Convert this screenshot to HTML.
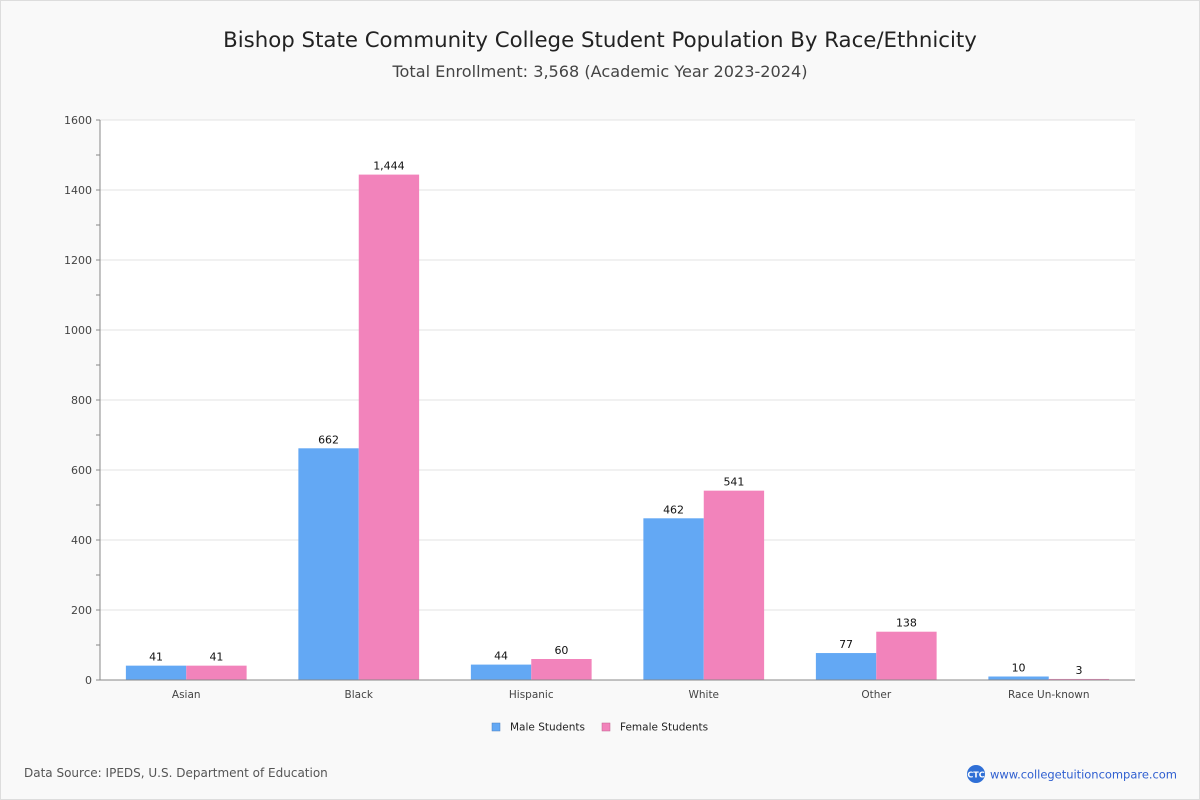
<!DOCTYPE html>
<html><head><meta charset="utf-8"><style>
body{margin:0;background:#f9f9f9;font-family:"DejaVu Sans","Liberation Sans",sans-serif;}
#wrap{position:relative;width:1198px;height:798px;border:1px solid #ddd;background:#f9f9f9;overflow:hidden}
</style></head><body>
<div id="wrap">
<svg id="svg" width="1198" height="798" xmlns="http://www.w3.org/2000/svg" font-family="DejaVu Sans, Liberation Sans, sans-serif">
<text x="599" y="46" text-anchor="middle" font-size="21.3" fill="#222">Bishop State Community College Student Population By Race/Ethnicity</text>
<text x="599" y="76" text-anchor="middle" font-size="16.1" fill="#444">Total Enrollment: 3,568 (Academic Year 2023-2024)</text>
<rect x="99" y="119" width="1035" height="560" fill="#fff"/>
<g id="grid"></g><g id="bars"></g><g id="axes"></g>
<g>
<rect x="491" y="722" width="8" height="8" fill="#63a8f4" stroke="#4a7fc0" stroke-width="0.5"/>
<text x="509" y="729.5" font-size="10.5" fill="#222">Male Students</text>
<rect x="601" y="722" width="8" height="8" fill="#f283bb" stroke="#c0608f" stroke-width="0.5"/>
<text x="619" y="729.5" font-size="10.5" fill="#222">Female Students</text>
</g>
<text x="23" y="776" font-size="12" fill="#555">Data Source: IPEDS, U.S. Department of Education</text>
<circle cx="975" cy="773" r="9" fill="#2f6fd6"/>
<text x="975" y="776.5" text-anchor="middle" font-size="8" fill="#fff" font-weight="bold">CTC</text>
<text x="989" y="777.5" font-size="11.5" fill="#2f5fd0" textLength="187">www.collegetuitioncompare.com</text>
</svg></div>
<script>
const categories=["Asian","Black","Hispanic","White","Other","Race Un-known"];
const maleValues=[41,662,44,462,77,10];
const femaleValues=[41,1444,60,541,138,3];
const yTicks=[0,200,400,600,800,1000,1200,1400,1600];
const NS="http://www.w3.org/2000/svg";
const X0=99,X1=1134,Y0=679,Y1=119,YMAX=1600;
const y=v=>Y0-(v/YMAX)*(Y0-Y1);
const gw=(X1-X0)/categories.length;
const bw=gw*0.35;
function mk(t,a,p){const e=document.createElementNS(NS,t);for(const k in a)e.setAttribute(k,a[k]);p.appendChild(e);return e;}
const grid=document.getElementById('grid'),bars=document.getElementById('bars'),axes=document.getElementById('axes');
yTicks.forEach(v=>{
 const l=mk('line',{x1:X0,x2:X1,y1:y(v),y2:y(v),stroke:'#e3e3e3'},grid);
 
 
 const t=mk('text',{x:X0-8,y:y(v)+4,'text-anchor':'end','font-size':11,fill:'#444'},axes);
 t.textContent=v;
 
 
});
for(let v=0;v<=YMAX;v+=100){mk('line',{x1:X0-4,x2:X0,y1:y(v),y2:y(v),stroke:'#888'},axes);}
mk('line',{x1:X0,x2:X0,y1:Y1,y2:Y0,stroke:'#888'},axes);
mk('line',{x1:X0,x2:X1,y1:Y0,y2:Y0,stroke:'#888'},axes);
const fmt=v=>v.toLocaleString('en-US');
categories.forEach((c,i)=>{
 const cx=X0+gw*(i+0.5);
 [[maleValues[i],'#63a8f4',cx-bw,'male'],[femaleValues[i],'#f283bb',cx,'female']].forEach(([v,col,x,s])=>{
  const r=mk('rect',{x:x,y:y(v),width:bw,height:Y0-y(v),fill:col},bars);
  
  
  const t=mk('text',{x:x+bw/2,y:y(v)-5,'text-anchor':'middle','font-size':11,fill:'#111'},bars);
  t.textContent=fmt(v);
  
  
 });
 const t=mk('text',{x:cx,y:Y0+18,'text-anchor':'middle','font-size':10.5,fill:'#444'},axes);
 t.textContent=c;
 
 
});
</script>
</body></html>
